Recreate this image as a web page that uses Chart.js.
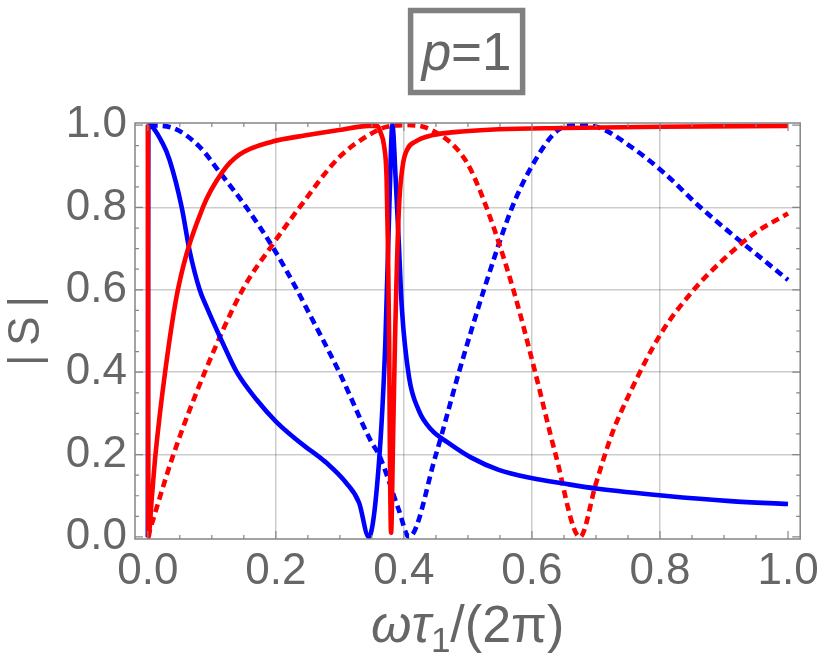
<!DOCTYPE html>
<html>
<head>
<meta charset="utf-8">
<script src="https://cdn.jsdelivr.net/npm/chart.js@4/dist/chart.umd.min.js"></script>
<style>
  html, body { margin: 0; padding: 0; background: #fff; }
  canvas { display: block; }
</style>
</head>
<body>
<canvas id="grafico" width="825" height="667"></canvas>
<script>
// valori: coppie [x, |S|]
const xTicks = [0, 0.2, 0.4, 0.6, 0.8, 1.0];
const yTicks = [0, 0.2, 0.4, 0.6, 0.8, 1.0];
const titolo = 'p=1';
const titoloY = '|\u2009S\u2009|';

const rossoPieno = [
  [0, 1], [0.001, 0], [0.006, 0.09], [0.012, 0.2], [0.027, 0.4], [0.047, 0.6],
  [0.086, 0.8], [0.117, 0.887], [0.143, 0.928], [0.195, 0.96], [0.247, 0.975],
  [0.299, 0.988], [0.345, 0.998], [0.358, 0.998], [0.364, 0.98], [0.369, 0.95],
  [0.373, 0.87], [0.375, 0.71], [0.377, 0.47], [0.378, 0.23], [0.380, 0.01],
  [0.383, 0.23], [0.386, 0.47], [0.392, 0.79], [0.398, 0.9], [0.405, 0.94],
  [0.418, 0.96], [0.443, 0.975], [0.496, 0.985], [0.548, 0.99], [0.65, 0.993],
  [0.8, 0.996], [1.0, 0.998]
];

const bluPieno = [
  [0, 0], [0.001, 1], [0.023, 0.956], [0.034, 0.915], [0.053, 0.8], [0.065, 0.697],
  [0.081, 0.6], [0.092, 0.558], [0.117, 0.471], [0.139, 0.4], [0.170, 0.333],
  [0.201, 0.279], [0.247, 0.218], [0.263, 0.2], [0.279, 0.18], [0.310, 0.131],
  [0.330, 0.083], [0.345, 0], [0.361, 0.18], [0.371, 0.471], [0.377, 0.79],
  [0.382, 1.0], [0.387, 0.874], [0.392, 0.714], [0.397, 0.551], [0.408, 0.388],
  [0.423, 0.308], [0.443, 0.26], [0.47, 0.228], [0.506, 0.192], [0.548, 0.163],
  [0.599, 0.143], [0.652, 0.129], [0.703, 0.117], [0.807, 0.1], [0.91, 0.087],
  [1.0, 0.08]
];

const rossoPunti = [
  [0, 0], [0.04, 0.2], [0.089, 0.4], [0.148, 0.6], [0.195, 0.71], [0.237, 0.8],
  [0.299, 0.922], [0.350, 0.98], [0.371, 0.995], [0.405, 1.0], [0.443, 0.988],
  [0.496, 0.915], [0.529, 0.8], [0.571, 0.6], [0.605, 0.4], [0.637, 0.2],
  [0.675, 0], [0.70, 0.13], [0.725, 0.25], [0.75, 0.34], [0.8, 0.49],
  [0.85, 0.595], [0.9, 0.675], [0.95, 0.74], [1.0, 0.785]
];

const bluPunti = [
  [0.003, 1.0], [0.039, 0.993], [0.081, 0.947], [0.112, 0.886], [0.154, 0.8],
  [0.195, 0.704], [0.233, 0.6], [0.247, 0.558], [0.299, 0.4], [0.350, 0.228],
  [0.361, 0.2], [0.392, 0.066], [0.408, 0], [0.45, 0.2], [0.486, 0.4],
  [0.525, 0.6], [0.569, 0.8], [0.599, 0.898], [0.641, 0.988], [0.672, 1.0],
  [0.703, 0.995], [0.755, 0.947], [0.807, 0.883], [0.859, 0.806], [0.910, 0.738],
  [0.962, 0.672], [1.0, 0.624]
];

const grigioTesto = '#666666';
const grigioCornice = '#858585';
const grigioGriglia = 'rgba(0,0,0,0.2)';
const FONT = '"Liberation Sans", Arial, sans-serif';

const xy = arr => arr.map(p => ({ x: p[0], y: p[1] }));

// cornice, tacche interne, riquadro del titolo e titolo dell'asse x
const decorazioni = {
  id: 'decorazioni',
  afterDraw(chart) {
    const { ctx, chartArea: a, scales } = chart;
    const sx = scales.x, sy = scales.y;
    ctx.save();

    // cornice
    ctx.strokeStyle = grigioCornice;
    ctx.lineWidth = 1.5;
    ctx.strokeRect(a.left, a.top, a.right - a.left, a.bottom - a.top);

    // tacche
    ctx.lineWidth = 1.2;
    ctx.beginPath();
    for (let i = 0; i <= 20; i++) {
      const v = i * 0.05;
      const major = i % 4 === 0;
      const len = major ? 8 : 4;
      const px = sx.getPixelForValue(v);
      ctx.moveTo(px, a.bottom); ctx.lineTo(px, a.bottom - len);
      ctx.moveTo(px, a.top); ctx.lineTo(px, a.top + len);
      const py = sy.getPixelForValue(v);
      ctx.moveTo(a.left, py); ctx.lineTo(a.left + len, py);
      ctx.moveTo(a.right, py); ctx.lineTo(a.right - len, py);
    }
    ctx.stroke();

    // riquadro del titolo
    const cx = (a.left + a.right) / 2 - 1;
    ctx.strokeStyle = '#808080';
    ctx.lineWidth = 5.5;
    ctx.strokeRect(cx - 56, 10.5, 112, 82);

    ctx.fillStyle = grigioTesto;
    ctx.textBaseline = 'alphabetic';
    const fT = 53;
    const parteP = titolo.slice(0, 1), resto = titolo.slice(1);
    ctx.font = `italic ${fT}px ${FONT}`;
    const wP = ctx.measureText(parteP).width;
    ctx.font = `${fT}px ${FONT}`;
    const wR = ctx.measureText(resto).width;
    let x0 = cx - (wP + wR) / 2;
    ctx.font = `italic ${fT}px ${FONT}`;
    ctx.fillText(parteP, x0, 70);
    ctx.font = `${fT}px ${FONT}`;
    ctx.fillText(resto, x0 + wP, 70);

    // titolo asse x: ωτ₁/(2π)
    const pezzi = [
      { t: 'ω', f: `italic 52px ${FONT}`, dy: 0 },
      { t: 'τ', f: `italic 52px ${FONT}`, dy: 0 },
      { t: '1', f: `35px ${FONT}`, dy: 10 },
      { t: '/(2π)', f: `52px ${FONT}`, dy: 0 }
    ];
    let tot = 0;
    pezzi.forEach(p => { ctx.font = p.f; p.w = ctx.measureText(p.t).width; tot += p.w; });
    let xx = (a.left + a.right) / 2 - tot / 2;
    pezzi.forEach(p => {
      ctx.font = p.f;
      ctx.fillText(p.t, xx, 642 + p.dy);
      xx += p.w;
    });

    ctx.restore();
  }
};

const serie = (dati, colore, tratteggio, ordine) => ({
  data: xy(dati),
  borderColor: colore,
  borderWidth: 4.6,
  borderDash: tratteggio,
  borderCapStyle: 'butt',
  pointRadius: 0,
  cubicInterpolationMode: 'monotone',
  fill: false,
  order: ordine
});

new Chart(document.getElementById('grafico'), {
  type: 'line',
  data: {
    datasets: [
      serie(rossoPieno, '#ff0000', [], 1),
      serie(bluPieno, '#0000ff', [], 2),
      serie(rossoPunti, '#ff0000', [8, 5], 3),
      serie(bluPunti, '#0000ff', [8, 5], 4)
    ]
  },
  options: {
    responsive: false,
    animation: false,
    devicePixelRatio: 1,
    layout: { padding: { top: 123, right: 21, left: 0, bottom: 0 } },
    plugins: { legend: { display: false }, tooltip: { enabled: false } },
    scales: {
      x: {
        type: 'linear',
        min: -0.02,
        max: 1.019,
        afterBuildTicks: s => { s.ticks = xTicks.map(v => ({ value: v })); },
        afterFit: s => { s.height = 128; },
        ticks: {
          callback: v => Number(v).toFixed(1),
          color: grigioTesto,
          font: { family: FONT, size: 44 },
          padding: 6,
          maxRotation: 0,
          autoSkip: false
        },
        grid: {
          color: c => (c.tick && c.tick.value > 0.01 && c.tick.value < 0.99) ? grigioGriglia : 'rgba(0,0,0,0)',
          lineWidth: 1.5,
          drawTicks: false
        },
        border: { display: false }
      },
      y: {
        min: -0.005,
        max: 1.005,
        afterBuildTicks: s => { s.ticks = yTicks.map(v => ({ value: v })); },
        afterFit: s => { s.width = 135; },
        ticks: {
          callback: v => Number(v).toFixed(1),
          color: grigioTesto,
          font: { family: FONT, size: 44 },
          padding: 8,
          autoSkip: false
        },
        grid: {
          color: c => (c.tick && c.tick.value > 0.01 && c.tick.value < 0.99) ? grigioGriglia : 'rgba(0,0,0,0)',
          lineWidth: 1.5,
          drawTicks: false
        },
        border: { display: false },
        title: {
          display: true,
          text: titoloY,
          color: grigioTesto,
          font: { family: FONT, size: 44 },
          padding: { top: 0, bottom: 0 }
        }
      }
    }
  },
  plugins: [decorazioni]
});
</script>
</body>
</html>
